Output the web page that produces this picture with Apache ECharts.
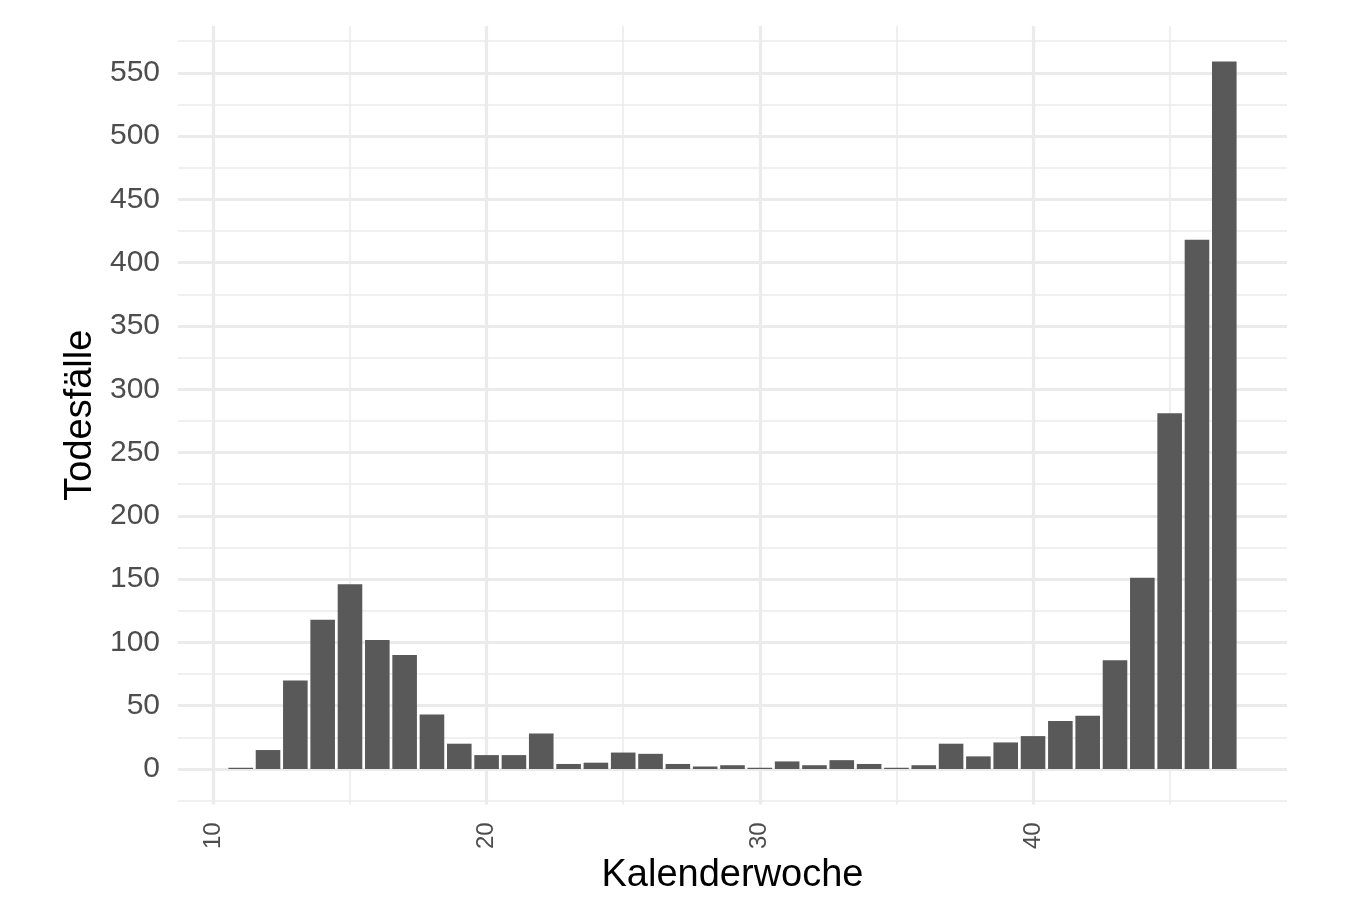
<!DOCTYPE html>
<html>
<head>
<meta charset="utf-8">
<title>Todesfälle je Kalenderwoche</title>
<script src="https://cdn.jsdelivr.net/npm/echarts@6.0.0/dist/echarts.min.js"></script>
<style>
    html, body { margin: 0; padding: 0; background: #fff; }
    #main { width: 1364px; height: 920px; }
</style>
</head>
<body>
<div id="main"></div>
<script>
// Kalenderwoche und Todesfälle
var weeks = [11, 12, 13, 14, 15, 16, 17, 18, 19, 20,
             21, 22, 23, 24, 25, 26, 27, 28, 29, 30,
             31, 32, 33, 34, 35, 36, 37, 38, 39, 40,
             41, 42, 43, 44, 45, 46, 47];
var deaths = [1, 15, 70, 118, 146, 102, 90, 43, 20, 11,
              11, 28, 4, 5, 13, 12, 4, 2, 3, 1,
              6, 3, 7, 4, 1, 3, 20, 10, 21, 26,
              38, 42, 86, 151, 281, 418, 559];

// Achsenticks
var xMajor = [10, 20, 30, 40];
var xMinor = [15, 25, 35, 45];
var yMajor = [0, 50, 100, 150, 200, 250, 300, 350, 400, 450, 500, 550];
var yMinor = [-25, 25, 75, 125, 175, 225, 275, 325, 375, 425, 475, 525, 575];

var barWidth = 0.9;
// wie ggplot: 5% Erweiterung
var xMin = weeks[0] - barWidth / 2, xMax = weeks[weeks.length - 1] + barWidth / 2;
var xPad = (xMax - xMin) * 0.05;
var yTop = Math.max.apply(null, deaths);
var yPad = yTop * 0.05;

var gridColor = '#EBEBEB';
var fontFamily = '"Liberation Sans", Arial, Helvetica, sans-serif';

var myChart = echarts.init(document.getElementById('main'));

var option = {
    animation: false,
    backgroundColor: '#fff',
    textStyle: { fontFamily: fontFamily },
    grid: { left: 178, right: 77, top: 26, bottom: 115.6 },
    xAxis: [
        {
            // kleine Gitterlinien
            type: 'value',
            min: xMin - xPad,
            max: xMax + xPad,
            axisLine: { show: false },
            axisTick: { show: false, customValues: xMinor },
            axisLabel: { show: false, customValues: xMinor },
            splitLine: { show: true, lineStyle: { color: gridColor, width: 1.6 } }
        },
        {
            type: 'value',
            position: 'bottom',
            min: xMin - xPad,
            max: xMax + xPad,
            name: 'Kalenderwoche',
            nameLocation: 'middle',
            nameGap: 50,
            nameTextStyle: { color: '#000', fontSize: 38, fontFamily: fontFamily },
            axisLine: { show: false },
            axisTick: { show: false, customValues: xMajor },
            axisLabel: {
                customValues: xMajor,
                rotate: 90,
                margin: 18,
                color: '#4D4D4D',
                fontSize: 24,
                fontFamily: fontFamily
            },
            splitLine: { show: true, lineStyle: { color: gridColor, width: 3.2 } }
        }
    ],
    yAxis: [
        {
            type: 'value',
            min: -yPad,
            max: yTop + yPad,
            axisLine: { show: false },
            axisTick: { show: false, customValues: yMinor },
            axisLabel: { show: false, customValues: yMinor },
            splitLine: { show: true, lineStyle: { color: gridColor, width: 1.6 } }
        },
        {
            type: 'value',
            position: 'left',
            min: -yPad,
            max: yTop + yPad,
            name: 'Todesfälle',
            nameLocation: 'middle',
            nameGap: 73,
            nameTextStyle: { color: '#000', fontSize: 38, fontFamily: fontFamily },
            axisLine: { show: false },
            axisTick: { show: false, customValues: yMajor },
            axisLabel: {
                customValues: yMajor,
                margin: 18,
                padding: [3, 0, 0, 0],
                color: '#4D4D4D',
                fontSize: 30,
                fontFamily: fontFamily
            },
            splitLine: { show: true, lineStyle: { color: gridColor, width: 3.2 } }
        }
    ],
    series: [
        {
            type: 'custom',
            xAxisIndex: 1,
            yAxisIndex: 1,
            data: weeks.map(function (w, i) { return [w, deaths[i]]; }),
            encode: { x: 0, y: 1 },
            renderItem: function (params, api) {
                var x = api.value(0);
                var y = api.value(1);
                var p0 = api.coord([x - barWidth / 2, y]);
                var p1 = api.coord([x + barWidth / 2, 0]);
                return {
                    type: 'rect',
                    shape: { x: p0[0], y: p0[1], width: p1[0] - p0[0], height: p1[1] - p0[1] },
                    style: { fill: '#595959' }
                };
            }
        }
    ]
};

myChart.setOption(option);
</script>
</body>
</html>
